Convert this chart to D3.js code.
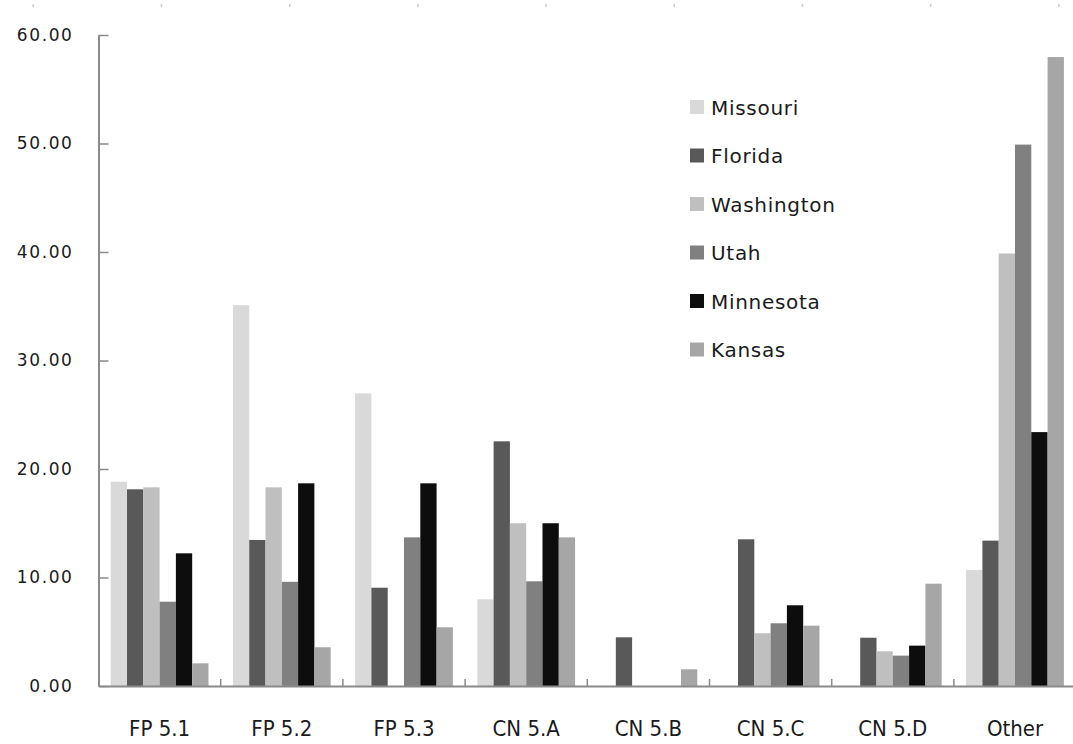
<!DOCTYPE html>
<html>
<head>
<meta charset="utf-8">
<script src="https://cdn.jsdelivr.net/npm/d3@7"></script>
<style>
  html, body { margin: 0; padding: 0; background: #ffffff; }
  svg { display: block; }
</style>
</head>
<body>
<svg id="chart" width="1073" height="744"></svg>
<script>
// Category groups along the x axis
const categories = ["FP 5.1", "FP 5.2", "FP 5.3", "CN 5.A", "CN 5.B", "CN 5.C", "CN 5.D", "Other"];

// One array per state, values in category order
const missouri   = [18.83, 35.10, 26.97,  7.99, 0,    0,     0,    10.70];
const florida    = [18.13, 13.46,  9.06, 22.55, 4.49, 13.52, 4.45, 13.40];
const washington = [18.31, 18.31,  0,    15.00, 0,     4.86, 3.20, 39.86];
const utah       = [ 7.77,  9.60, 13.70,  9.65, 0,     5.78, 2.80, 49.90];
const minnesota  = [12.23, 18.68, 18.68, 15.00, 0,     7.44, 3.72, 23.40];
const kansas     = [ 2.09,  3.57,  5.41, 13.70, 1.54,  5.56, 9.43, 57.97];

const seriesNames  = ["Missouri", "Florida", "Washington", "Utah", "Minnesota", "Kansas"];
const seriesValues = [missouri, florida, washington, utah, minnesota, kansas];
const seriesColors = ["#d9d9d9", "#595959", "#bfbfbf", "#808080", "#0d0d0d", "#a6a6a6"];

// Y axis tick values
const yTicks = [0, 10, 20, 30, 40, 50, 60];

const svg = d3.select("#chart");

const plotLeft = 98.5, plotTop = 35, plotBottom = 686;
const bandStep = 122.2;

const x0 = d3.scaleBand()
  .domain(categories)
  .range([plotLeft, plotLeft + bandStep * categories.length])
  .paddingInner(0).paddingOuter(0);

// Cluster gap equals 1.5 bar widths
const barW = x0.bandwidth() / (seriesNames.length + 1.5);
const gap = barW * 1.5;
const x1 = d3.scaleBand()
  .domain(seriesNames)
  .range([gap / 2, x0.bandwidth() - gap / 2])
  .padding(0);

const y = d3.scaleLinear().domain([0, 60]).range([plotBottom, plotTop]);

// faint marks along the top edge
const topMarks = d3.range(9).map(i => 33 + i * 128.2);
svg.append("g").selectAll("rect").data(topMarks).join("rect")
  .attr("x", d => d - 0.5).attr("y", 4).attr("width", 1.5).attr("height", 3)
  .attr("fill", "#c5c9db");

// Bars
const rows = categories.map((c, i) => ({
  cat: c,
  vals: seriesNames.map((s, j) => ({ name: s, value: seriesValues[j][i], color: seriesColors[j] }))
}));

svg.append("g")
  .selectAll("g")
  .data(rows)
  .join("g")
  .attr("transform", d => `translate(${x0(d.cat)},0)`)
  .selectAll("rect")
  .data(d => d.vals.filter(v => v.value > 0))
  .join("rect")
  .attr("x", d => x1(d.name))
  .attr("width", x1.bandwidth())
  .attr("y", d => y(d.value))
  .attr("height", d => y(0) - y(d.value))
  .attr("fill", d => d.color);

// Y axis
const yAxis = svg.append("g")
  .attr("transform", `translate(${plotLeft},0)`)
  .call(d3.axisLeft(y).tickValues(yTicks).tickFormat(d3.format(".2f"))
    .tickSizeInner(-10).tickSizeOuter(0).tickPadding(25));
yAxis.select(".domain").attr("stroke", "#8a8a8a").attr("stroke-width", 2);
yAxis.selectAll(".tick line").attr("stroke", "#8a8a8a").attr("stroke-width", 1.5);
yAxis.selectAll(".tick text")
  .attr("fill", "#1a1a1a")
  .style("font-family", "'DejaVu Sans', Verdana, sans-serif")
  .style("font-size", "17px")
  .style("letter-spacing", "1.6px");

// X axis: labels centred in each group, ticks on group boundaries
const xAxis = svg.append("g")
  .attr("transform", `translate(0,${plotBottom})`)
  .call(d3.axisBottom(x0).tickSizeInner(0).tickSizeOuter(0).tickPadding(34));
xAxis.select(".domain").attr("stroke", "#8a8a8a").attr("stroke-width", 2);
xAxis.selectAll(".tick text")
  .attr("fill", "#1a1a1a")
  .style("font-family", "'DejaVu Sans Condensed', 'DejaVu Sans', sans-serif")
  .style("font-stretch", "condensed")
  .style("font-size", "22px");

const boundaries = categories.slice(1).map(c => x0(c)).concat([x0.range()[1]]);
xAxis.append("g").selectAll("line").data(boundaries).join("line")
  .attr("x1", d => d).attr("x2", d => d)
  .attr("y1", 0).attr("y2", -7)
  .attr("stroke", "#8a8a8a").attr("stroke-width", 1.5);

// Legend
const legend = svg.append("g").attr("transform", "translate(690,100)");
const item = legend.selectAll("g").data(seriesNames).join("g")
  .attr("transform", (d, i) => `translate(0,${i * 48.5})`);
item.append("rect")
  .attr("width", 14).attr("height", 14)
  .attr("fill", (d, i) => seriesColors[i]);
item.append("text")
  .attr("x", 21).attr("y", 14.5)
  .attr("fill", "#1a1a1a")
  .style("font-family", "'DejaVu Sans', Verdana, sans-serif")
  .style("font-size", "20px")
  .style("letter-spacing", "0.7px")
  .text(d => d);
</script>
</body>
</html>
